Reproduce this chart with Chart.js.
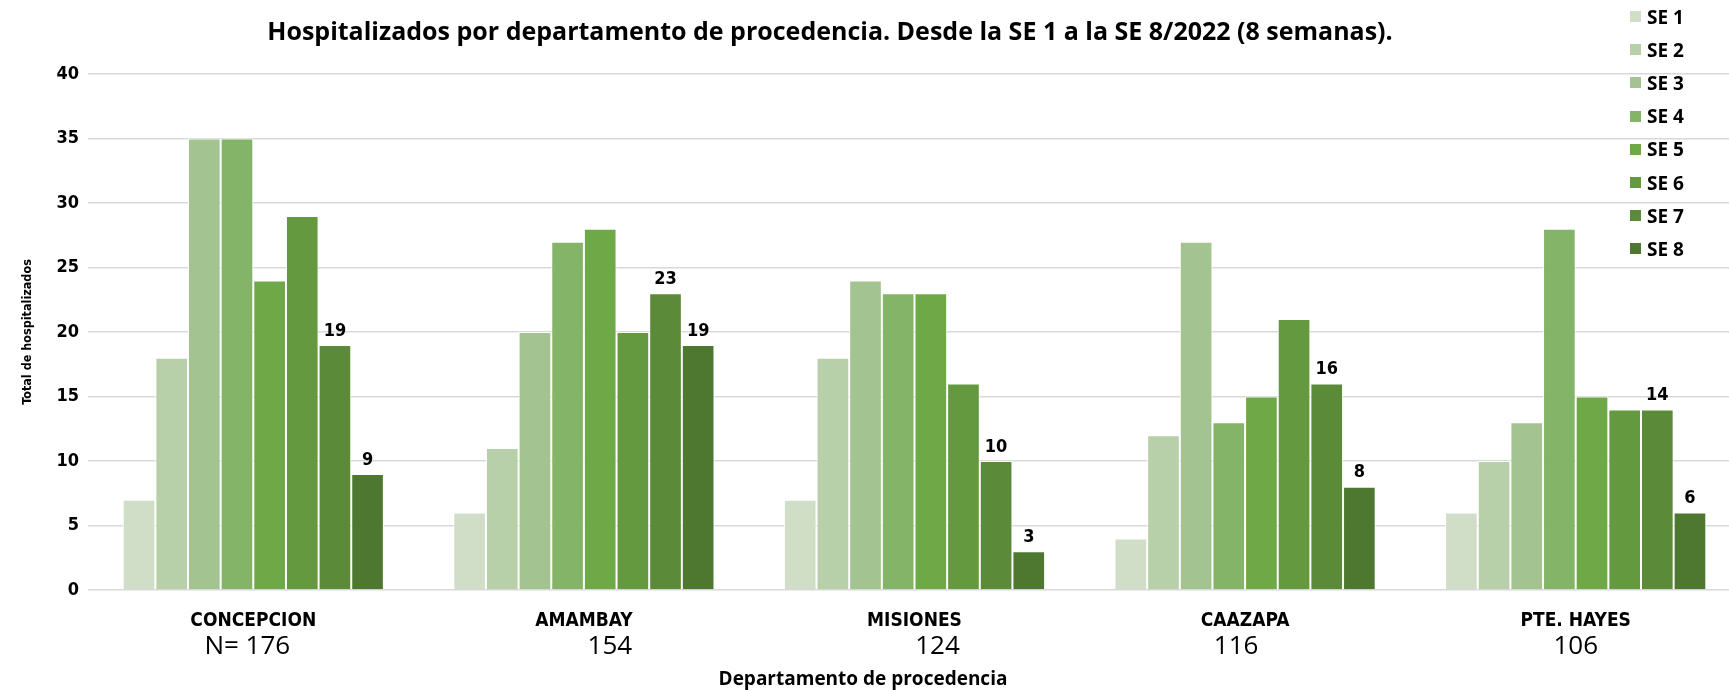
<!DOCTYPE html>
<html lang="es">
<head>
    <meta charset="UTF-8">
    <title>Hospitalizados por departamento de procedencia</title>
    <script src="https://cdn.jsdelivr.net/npm/chart.js"></script>
    <style>
        body {
            margin: 0;
            width: 1729px;
            height: 690px;
            overflow: hidden;
            background: #fff;
            font-family: 'Open Sans', sans-serif;
        }
        .wrap {
            position: relative;
            width: 1741px;
            height: 690px;
        }
        #chartTitle {
            position: absolute;
            top: 12px;
            left: 830px;
            transform: translateX(-50%);
            white-space: nowrap;
            font-weight: bold;
            font-size: 25px;
            line-height: 36px;
            color: #000;
        }
        #axisTitle {
            position: absolute;
            top: 665px;
            left: 863px;
            transform: translateX(-50%);
            white-space: nowrap;
            font-weight: bold;
            font-size: 19px;
            line-height: 26px;
            color: #000;
        }
        #legend {
            position: absolute;
            left: 1630px;
            top: 0px;
            margin: 0;
            padding: 0;
            list-style: none;
        }
        #legend li {
            height: 33.2px;
            display: flex;
            align-items: center;
            font-weight: bold;
            font-size: 19px;
            color: #000;
        }
        #legend span {
            width: 11px;
            height: 11px;
            margin-right: 6px;
        }
    </style>
</head>
<body>
<div class="wrap">
    <canvas id="hospChart" width="1741" height="690"></canvas>
    <div id="chartTitle">Hospitalizados por departamento de procedencia. Desde la SE 1 a la SE 8/2022 (8 semanas).</div>
    <div id="axisTitle">Departamento de procedencia</div>
    <ul id="legend"></ul>
</div>

<script>
    // departamentos y totales
    const departamentos = ['CONCEPCION', 'AMAMBAY', 'MISIONES', 'CAAZAPA', 'PTE. HAYES'];
    const totales = ['N= 176', '154', '124', '116', '106'];
    // the totals were typed in a loose text box, a bit off the category centres
    const totalesNudge = [-6, 26, 23, -9, 0];

    // semanas epidemiologicas
    const semanas = ['SE 1', 'SE 2', 'SE 3', 'SE 4', 'SE 5', 'SE 6', 'SE 7', 'SE 8'];
    const colores = ['#d0dec7', '#b7d0aa', '#a3c491', '#84b467', '#6fa846', '#64993f', '#5b8a39', '#4e7830'];

    // hospitalizados por semana (uno por departamento)
    const se1 = [7, 6, 7, 4, 6];
    const se2 = [18, 11, 18, 12, 10];
    const se3 = [35, 20, 24, 27, 13];
    const se4 = [35, 27, 23, 13, 28];
    const se5 = [24, 28, 23, 15, 15];
    const se6 = [29, 20, 16, 21, 14];
    const se7 = [19, 23, 10, 16, 14];
    const se8 = [9, 19, 3, 8, 6];
    const series = [se1, se2, se3, se4, se5, se6, se7, se8];

    // only the last two weeks carry value labels
    const conEtiqueta = ['SE 7', 'SE 8'];

    const yTicks = [0, 5, 10, 15, 20, 25, 30, 35, 40];

    const narrow = "'Liberation Sans Narrow', 'DejaVu Sans Condensed', 'Liberation Sans', sans-serif";

    // value labels above bars
    const valueLabels = {
        id: 'valueLabels',
        afterDatasetsDraw(chart) {
            const ctx = chart.ctx;
            ctx.save();
            ctx.font = 'bold 18px ' + narrow;
            ctx.fillStyle = '#000';
            ctx.textAlign = 'center';
            ctx.textBaseline = 'bottom';
            chart.data.datasets.forEach((ds, i) => {
                if (!conEtiqueta.includes(ds.label)) return;
                chart.getDatasetMeta(i).data.forEach((bar, j) => {
                    ctx.fillText(ds.data[j], bar.x, bar.y - 5);
                });
            });
            ctx.restore();
        }
    };

    // N totals under department names
    const totalLabels = {
        id: 'totalLabels',
        afterDraw(chart) {
            const ctx = chart.ctx;
            const xs = chart.scales.x;
            ctx.save();
            ctx.font = '26px Open Sans, sans-serif';
            ctx.fillStyle = '#000';
            ctx.textAlign = 'center';
            ctx.textBaseline = 'middle';
            totales.forEach((t, i) => {
                ctx.fillText(t, xs.getPixelForValue(i) + totalesNudge[i], 647);
            });
            ctx.restore();
        }
    };

    const ctx = document.getElementById('hospChart').getContext('2d');
    const hospChart = new Chart(ctx, {
        type: 'bar',
        data: {
            labels: departamentos,
            datasets: semanas.map((s, i) => ({
                label: s,
                data: series[i],
                backgroundColor: colores[i],
                borderColor: '#ffffff',
                borderWidth: 1,
                categoryPercentage: 0.79,
                barPercentage: 1.0
            }))
        },
        options: {
            responsive: false,
            animation: false,
            layout: {
                padding: { top: 74, right: 0, bottom: 0, left: 0 }
            },
            plugins: {
                legend: { display: false },
                title: { display: false },
                tooltip: { enabled: false }
            },
            scales: {
                x: {
                    grid: { display: false, drawTicks: false },
                    border: { display: false },
                    ticks: {
                        color: '#000',
                        padding: 20,
                        font: { family: narrow, size: 19, weight: 'bold' }
                    },
                    afterFit(scale) { scale.height = 100; }
                },
                y: {
                    min: 0,
                    max: 40,
                    afterBuildTicks(scale) {
                        scale.ticks = yTicks.map(v => ({ value: v }));
                    },
                    grid: { color: '#d9d9d9', lineWidth: 1.5, drawTicks: false },
                    border: { display: false },
                    ticks: {
                        color: '#000',
                        padding: 9,
                        font: { family: narrow, size: 18, weight: 'bold' }
                    },
                    title: {
                        display: true,
                        text: 'Total de hospitalizados',
                        color: '#000',
                        font: { family: narrow, size: 12.5, weight: 'bold' },
                        padding: { top: 20, bottom: 0 }
                    },
                    afterFit(scale) { scale.width = 88; }
                }
            }
        },
        plugins: [valueLabels, totalLabels]
    });

    // legend overlaid on the plot, built from the series names
    const legendEl = document.getElementById('legend');
    semanas.forEach((s, i) => {
        const li = document.createElement('li');
        const sw = document.createElement('span');
        sw.style.background = colores[i];
        li.appendChild(sw);
        li.appendChild(document.createTextNode(s));
        legendEl.appendChild(li);
    });
</script>
</body>
</html>
